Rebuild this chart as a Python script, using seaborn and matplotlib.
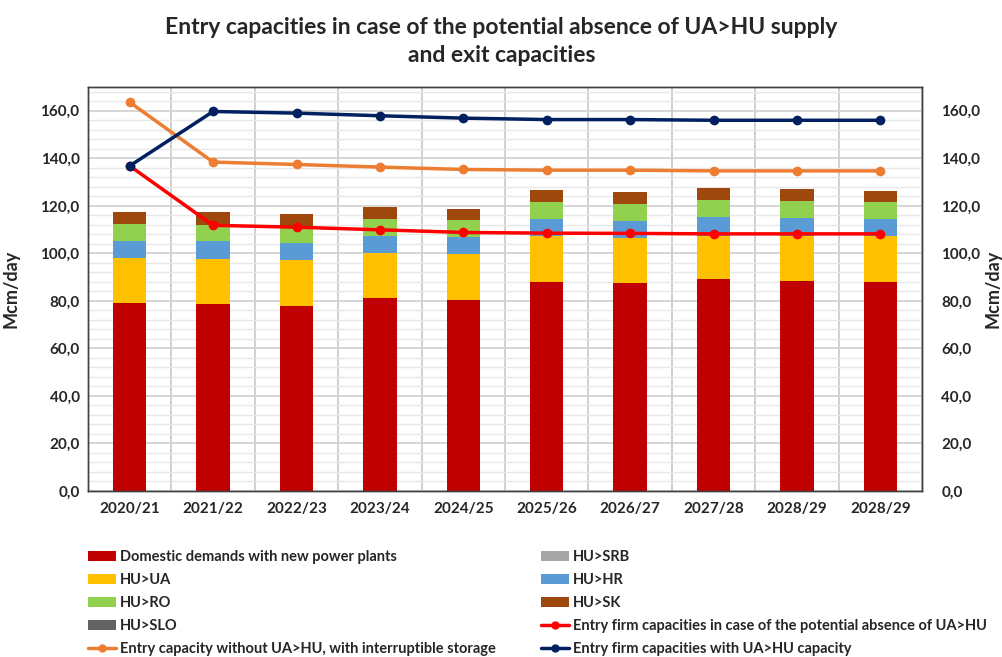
import numpy as np
import pandas as pd
import matplotlib
matplotlib.use("Agg")
import matplotlib.pyplot as plt
from matplotlib.patches import Patch
from matplotlib.lines import Line2D
from matplotlib.ticker import MultipleLocator, FuncFormatter
import seaborn as sns

# ---- data (Mcm/day) ----
years = ["2020/21", "2021/22", "2022/23", "2023/24", "2024/25",
         "2025/26", "2026/27", "2027/28", "2028/29", "2028/29"]

domestic = [79.0, 78.6, 78.0, 81.1, 80.4, 87.9, 87.4, 89.1, 88.5, 87.9]
hu_ua    = [19.0, 19.1, 19.4, 19.1, 19.2, 19.2, 19.1, 18.4, 19.0, 19.2]
hu_srb   = [0.0, 0.0, 0.0, 0.0, 0.0, 0.0, 0.0, 0.0, 0.0, 0.0]
hu_hr    = [7.0, 7.3, 7.0, 7.3, 7.3, 7.3, 7.3, 7.9, 7.4, 7.3]
hu_ro    = [7.4, 7.1, 7.3, 7.0, 7.1, 7.0, 7.0, 7.1, 7.0, 7.0]
hu_sk    = [4.8, 5.1, 4.9, 4.9, 4.7, 5.2, 5.1, 4.8, 5.0, 5.0]
hu_slo   = [0.0, 0.0, 0.0, 0.0, 0.0, 0.0, 0.0, 0.0, 0.0, 0.0]

firm_without_ua = [136.8, 111.8, 111.0, 109.9, 108.8, 108.5, 108.4, 108.2, 108.2, 108.2]
entry_interrupt = [163.6, 138.4, 137.4, 136.3, 135.3, 135.0, 135.0, 134.7, 134.7, 134.7]
firm_with_ua    = [136.8, 159.7, 159.0, 157.9, 156.9, 156.3, 156.3, 156.0, 156.0, 156.0]

bar_series = [
    ("Domestic demands with new power plants", domestic, "#C00000"),
    ("HU>UA", hu_ua, "#FFC000"),
    ("HU>SRB", hu_srb, "#A5A5A5"),
    ("HU>HR", hu_hr, "#5B9BD5"),
    ("HU>RO", hu_ro, "#92D050"),
    ("HU>SK", hu_sk, "#9E480E"),
    ("HU>SLO", hu_slo, "#636363"),
]
line_series = [
    ("Entry firm capacities in case of the potential absence of UA>HU", firm_without_ua, "#FF0000"),
    ("Entry capacity without UA>HU, with interruptible storage", entry_interrupt, "#ED7D31"),
    ("Entry firm capacities with UA>HU capacity", firm_with_ua, "#002060"),
]

sns.set_theme(style="white")
plt.rcParams["font.family"] = ["Lato", "DejaVu Sans"]
plt.rcParams["font.weight"] = "bold"

fig = plt.figure(figsize=(10.03, 6.57), dpi=100)
ax = fig.add_axes([88 / 1003, 1 - 491 / 657, 834 / 1003, 404 / 657])

pos = np.arange(len(years))
df = pd.DataFrame({"pos": pos})

# stacked bars: draw cumulative totals from the top segment down
cum = np.zeros(len(years))
cums = []
for name, vals, color in bar_series:
    cum = cum + np.array(vals)
    cums.append((name, cum.copy(), color))
for name, total, color in reversed(cums):
    d = df.assign(v=total)
    sns.barplot(data=d, x="pos", y="v", color=color, width=0.4,
                saturation=1, ax=ax, zorder=2, linewidth=0)

for name, vals, color in line_series:
    sns.lineplot(x=pos, y=vals, color=color, marker="o", markersize=7,
                 markeredgewidth=0, linewidth=2.5, ax=ax, zorder=4)

ax.set_xlim(-0.5, len(years) - 0.5)
ax.set_ylim(0, 170)
ax.yaxis.set_major_locator(MultipleLocator(20))
ax.yaxis.set_minor_locator(MultipleLocator(4))
fmt = FuncFormatter(lambda v, p: f"{v:.1f}".replace(".", ","))
ax.yaxis.set_major_formatter(fmt)
ax.set_xticks(pos)
ax.set_xticklabels(years, fontsize=11, fontweight="bold")
ax.set_xticks(np.arange(-0.5, len(years), 1), minor=True)

ax.grid(False)
ax.grid(axis="y", which="major", color="#D0D0D0", linewidth=1.2, zorder=0)
ax.grid(axis="y", which="minor", color="#E8E8E8", linewidth=1.0, zorder=0)
ax.grid(axis="x", which="minor", color="#C8C8C8", linewidth=1.2, zorder=0)
ax.set_axisbelow(True)

for s in ax.spines.values():
    s.set_color("#404040")
    s.set_linewidth(1.0)

ax.tick_params(axis="both", which="both", length=0)
ax.tick_params(axis="y", labelsize=11, pad=6)
ax.tick_params(axis="x", pad=8)
for t in ax.get_yticklabels():
    t.set_fontweight("bold")
ax.set_xlabel("")
ax.set_ylabel("Mcm/day", fontsize=13, fontweight="bold")
ax.yaxis.set_label_coords(-68 / 834, 0.5)

ax2 = ax.twinx()
ax2.set_ylim(ax.get_ylim())
ax2.yaxis.set_major_locator(MultipleLocator(20))
ax2.yaxis.set_major_formatter(fmt)
ax2.tick_params(axis="y", length=0, labelsize=11, pad=14)
for t in ax2.get_yticklabels():
    t.set_fontweight("bold")
ax2.set_ylabel("Mcm/day", fontsize=13, fontweight="bold")
ax2.yaxis.set_label_coords(1 + 63 / 834, 0.5)
for s in ax2.spines.values():
    s.set_color("#404040")
    s.set_linewidth(1.0)

fig.suptitle("Entry capacities in case of the potential absence of UA>HU supply\nand exit capacities",
             x=0.5, y=0.974, fontsize=16.5, fontweight="bold", linespacing=1.4)

# legend: two columns, row-major reading order
def patch(i):
    name, _, color = bar_series[i]
    return Patch(facecolor=color, edgecolor="none", label=name)

def line(i):
    name, _, color = line_series[i]
    return Line2D([0], [0], color=color, linewidth=2.5, marker="o",
                  markersize=5, label=name)

left_items = [patch(0), patch(1), patch(4), patch(6), line(1)]
right_items = [patch(2), patch(3), patch(5), line(0), line(2)]

leg_kw = dict(loc="upper left", frameon=False, handlelength=1.9,
              handleheight=0.65, handletextpad=0.3, labelspacing=0.62,
              borderaxespad=0, borderpad=0)
leg1 = fig.legend(handles=left_items, bbox_to_anchor=(88 / 1003, 1 - 550 / 657),
                  prop={"weight": "bold", "size": 10.5}, **leg_kw)
leg2 = fig.legend(handles=right_items, bbox_to_anchor=(541 / 1003, 1 - 550 / 657),
                  prop={"weight": "bold", "size": 10.5}, **leg_kw)

fig.savefig("out.png", dpi=100)
